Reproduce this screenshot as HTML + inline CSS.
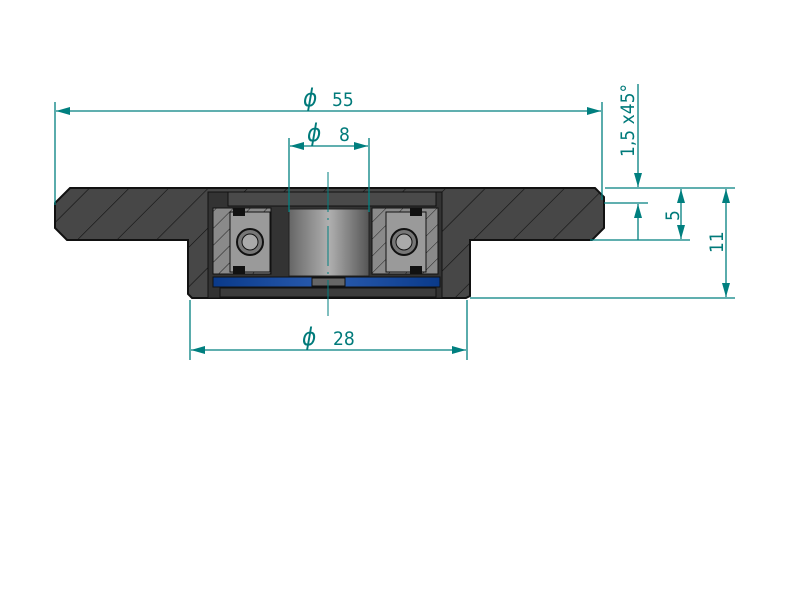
<!DOCTYPE html>
<html><head><meta charset="utf-8"><style>
html,body{margin:0;padding:0;background:#fff;width:800px;height:600px;overflow:hidden}
svg{display:block}
text{font-family:"DejaVu Sans Condensed","Liberation Sans",sans-serif;fill:#007a7a}
</style></head><body>
<svg width="800" height="600" viewBox="0 0 800 600">
<defs>
<marker id="a" markerWidth="14" markerHeight="8" refX="14" refY="4" orient="auto-start-reverse" markerUnits="userSpaceOnUse"><path d="M0,0 L14,4 L0,8 z" fill="#007f7f"/></marker>
<linearGradient id="sh" x1="0" x2="1"><stop offset="0" stop-color="#666"/><stop offset="0.5" stop-color="#b0b0b0"/><stop offset="1" stop-color="#555"/></linearGradient>
<linearGradient id="bl" x1="0" x2="1"><stop offset="0" stop-color="#0a3a8a"/><stop offset="0.5" stop-color="#2a5cb0"/><stop offset="1" stop-color="#0a3a8a"/></linearGradient>
<pattern id="h" width="28" height="28" patternUnits="userSpaceOnUse" patternTransform="rotate(45)"><rect width="28" height="28" fill="#474747"/><line x1="0" y1="0" x2="0" y2="28" stroke="#111" stroke-width="1.2"/></pattern>
<pattern id="h2" width="12" height="12" patternUnits="userSpaceOnUse" patternTransform="rotate(45)"><rect width="12" height="12" fill="#8a8a8a"/><line x1="0" y1="0" x2="0" y2="12" stroke="#222" stroke-width="1"/></pattern>
</defs>
<path d="M70,188 L595,188 L604,197 L604,228 L592,240 L470,240 L470,296 L466,298 L192,298 L188,294 L188,240 L67,240 L55,228 L55,203 Z" fill="url(#h)" stroke="#111" stroke-width="2"/>
<rect x="208" y="192" width="234" height="106" fill="#333" stroke="#111"/>
<rect x="228" y="192" width="208" height="14" fill="#4a4a4a" stroke="#111"/>
<rect x="213" y="208" width="58" height="66" fill="url(#h2)" stroke="#111"/>
<rect x="372" y="208" width="66" height="66" fill="url(#h2)" stroke="#111"/>
<rect x="230" y="212" width="40" height="60" fill="#9a9a9a" stroke="#111"/>
<rect x="386" y="212" width="40" height="60" fill="#9a9a9a" stroke="#111"/>
<circle cx="250" cy="242" r="13" fill="#777" stroke="#111" stroke-width="2"/>
<circle cx="250" cy="242" r="8" fill="#aaa" stroke="#111"/>
<circle cx="404" cy="242" r="13" fill="#777" stroke="#111" stroke-width="2"/>
<circle cx="404" cy="242" r="8" fill="#aaa" stroke="#111"/>
<rect x="233" y="208" width="12" height="8" fill="#111"/><rect x="233" y="266" width="12" height="8" fill="#111"/>
<rect x="410" y="208" width="12" height="8" fill="#111"/><rect x="410" y="266" width="12" height="8" fill="#111"/>
<rect x="289" y="209" width="80" height="67" fill="url(#sh)" stroke="#222"/>
<rect x="213" y="277" width="227" height="10" fill="url(#bl)" stroke="#111"/>
<rect x="312" y="278" width="33" height="8" fill="#666" stroke="#111"/>
<rect x="220" y="288" width="216" height="9" fill="#3c3c3c" stroke="#111"/>
<line x1="328" y1="172" x2="328" y2="316" stroke="#007f7f" stroke-width="1" stroke-dasharray="40,6,2,6"/>
<g stroke="#007f7f" stroke-width="1.3" fill="none">
<line x1="55" y1="102" x2="55" y2="205"/>
<line x1="602" y1="102" x2="602" y2="200"/>
<line x1="56" y1="111" x2="601" y2="111" marker-start="url(#a)" marker-end="url(#a)"/>
<line x1="289" y1="138" x2="289" y2="212"/>
<line x1="369" y1="138" x2="369" y2="212"/>
<line x1="290" y1="146" x2="368" y2="146" marker-start="url(#a)" marker-end="url(#a)"/>
<line x1="190" y1="300" x2="190" y2="360"/>
<line x1="467" y1="300" x2="467" y2="360"/>
<line x1="191" y1="350" x2="466" y2="350" marker-start="url(#a)" marker-end="url(#a)"/>
<line x1="605" y1="188" x2="735" y2="188"/>
<line x1="604" y1="203" x2="648" y2="203"/>
<line x1="590" y1="240" x2="690" y2="240"/>
<line x1="470" y1="298" x2="735" y2="298"/>
<line x1="638" y1="84" x2="638" y2="187" marker-end="url(#a)"/>
<line x1="638" y1="240" x2="638" y2="204" marker-end="url(#a)"/>
<line x1="681" y1="189" x2="681" y2="239" marker-start="url(#a)" marker-end="url(#a)"/>
<line x1="726" y1="189" x2="726" y2="297" marker-start="url(#a)" marker-end="url(#a)"/>
</g>
<text x="303" y="106" font-size="24" font-style="italic">ϕ</text><text x="332" y="106" font-size="19">55</text>
<text x="307" y="141" font-size="24" font-style="italic">ϕ</text><text x="339" y="141" font-size="19">8</text>
<text x="302" y="345" font-size="24" font-style="italic">ϕ</text><text x="333" y="345" font-size="19">28</text>
<text transform="translate(634,157) rotate(-90)" font-size="19">1,5 x45°</text>
<text transform="translate(679,221) rotate(-90)" font-size="19">5</text>
<text transform="translate(723,253) rotate(-90)" font-size="19">11</text>
</svg>
</body></html>
